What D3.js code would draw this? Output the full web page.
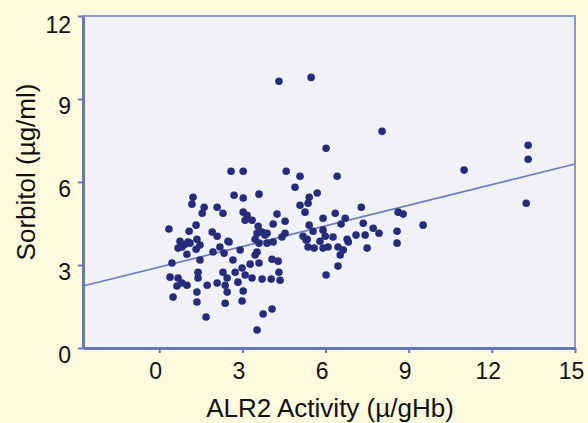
<!DOCTYPE html>
<html>
<head>
<meta charset="utf-8">
<script src="https://cdn.jsdelivr.net/npm/d3@7"></script>
<style>
  html, body { margin: 0; padding: 0; background: #fefade; }
  svg { display: block; font-family: "Liberation Sans", Arial, sans-serif; }
</style>
</head>
<body>
<svg width="588" height="423"></svg>
<script>
// ALR2 activity (x) vs sorbitol (y)
const alr2 = [
  4.32, 5.48, 6.02, 8.04, 11.00, 13.31, 13.31, 13.24, 9.52, 2.59,
  3.03, 4.58, 5.08, 6.42, 4.90, 5.70, 5.41, 2.70, 3.03, 3.60,
  1.22, 1.18, 1.62, 2.09, 1.55, 2.30, 3.03, 3.17, 3.35, 3.10,
  4.25, 4.11, 4.54, 5.08, 5.37, 5.26, 5.41, 5.55, 5.30, 5.59,
  5.91, 5.91, 6.35, 6.71, 6.56, 6.27, 6.78, 6.45, 6.09, 5.91,
  5.99, 5.80, 5.34, 5.19, 5.37, 7.29, 7.36, 7.72, 7.93, 7.10,
  7.43, 8.62, 8.80, 8.58, 8.58, 7.50, 6.82, 6.64, 6.53, 6.45,
  6.02, 0.35, 1.08, 1.33, 1.91, 2.09, 0.75, 1.04, 1.36, 1.47,
  0.82, 2.48, 2.19, 0.68, 1.00, 1.33, 1.94, 2.34, 2.52, 3.53,
  3.71, 3.89, 4.54, 3.60, 3.53, 3.89, 4.11, 3.46, 2.66, 1.47,
  0.46, 0.39, 0.68, 0.82, 1.00, 0.64, 1.40, 1.40, 1.73, 1.36,
  0.50, 1.36, 1.69, 2.09, 2.30, 2.45, 2.38, 2.45, 2.38, 2.74,
  2.99, 3.10, 2.84, 3.03, 2.99, 3.35, 3.28, 3.60, 3.71, 4.07,
  4.29, 4.04, 4.36, 4.32, 3.75, 4.07, 3.53, 3.46, 3.57, 4.43,
  3.82, 2.92, 0.93, 1.11
];
const sorbitol = [
  9.64, 9.78, 7.22, 7.83, 6.43, 7.33, 6.82, 5.23, 4.44, 6.39,
  6.39, 6.39, 6.21, 6.21, 5.81, 5.60, 5.45, 5.52, 5.42, 5.56,
  5.45, 5.20, 5.09, 5.09, 4.87, 4.87, 4.91, 4.80, 4.62, 4.62,
  4.84, 4.48, 4.58, 5.16, 5.23, 4.91, 4.44, 4.22, 3.90, 3.61,
  4.26, 4.69, 4.87, 4.69, 4.48, 4.01, 3.93, 3.65, 3.65, 3.61,
  4.04, 3.86, 3.93, 4.04, 3.65, 5.09, 4.51, 4.33, 4.15, 4.08,
  4.08, 4.91, 4.84, 4.22, 3.79, 3.61, 3.83, 3.54, 3.36, 2.96,
  2.64, 4.30, 4.22, 4.44, 4.19, 4.04, 3.86, 3.83, 3.93, 3.72,
  3.65, 3.86, 3.65, 3.61, 3.39, 3.57, 3.47, 3.43, 3.83, 4.15,
  4.19, 4.15, 4.15, 3.79, 3.47, 3.79, 3.83, 3.36, 3.18, 3.18,
  3.07, 2.56, 2.53, 2.35, 2.27, 2.24, 2.74, 2.53, 2.27, 2.02,
  1.84, 1.66, 1.12, 2.35, 2.74, 2.53, 2.27, 2.02, 1.62, 2.74,
  2.89, 2.64, 2.38, 2.06, 1.70, 2.53, 3.03, 3.07, 2.49, 3.21,
  3.14, 2.49, 2.45, 2.74, 1.23, 1.41, 0.65, 3.93, 4.40, 4.01,
  4.08, 3.54, 3.75, 3.79
];
// fitted line, ends at the edges of the plot
const fitX = [-2.75, 15];
const fitY = [2.24, 6.65];

const xTicks = [0, 3, 6, 9, 12, 15];
const yTicks = [0, 3, 6, 9, 12];

const svg = d3.select("svg");
const plotL = 83, plotR = 575, plotT = 16, plotB = 348;

const x = d3.scaleLinear().domain([-2.75, 15]).range([plotL, plotR]);
const y = d3.scaleLinear().domain([0, 12]).range([plotB, plotT]);

const axisColor = "#6877b9";

svg.append("rect")
    .attr("x", plotL).attr("y", plotT)
    .attr("width", plotR - plotL).attr("height", plotB - plotT)
    .attr("fill", "#f0f2f8")
    .attr("stroke", "#8e98cc")
    .attr("stroke-width", 2);

// regression line
svg.append("line")
    .attr("x1", x(fitX[0])).attr("y1", y(fitY[0]))
    .attr("x2", x(fitX[1])).attr("y2", y(fitY[1]))
    .attr("stroke", "#6a7bc0")
    .attr("stroke-width", 1.7);

svg.append("g")
  .selectAll("circle")
  .data(d3.range(alr2.length))
  .join("circle")
    .attr("cx", i => x(alr2[i]))
    .attr("cy", i => y(sorbitol[i]))
    .attr("r", 3.8)
    .attr("fill", "#262c7c");

const xAxis = svg.append("g")
    .attr("transform", `translate(0,${plotB})`)
    .call(d3.axisBottom(x).tickValues(xTicks).tickSizeInner(5).tickSizeOuter(0).tickPadding(10));

const yAxis = svg.append("g")
    .attr("transform", `translate(${plotL},0)`)
    .call(d3.axisLeft(y).tickValues(yTicks).tickSizeInner(5).tickSizeOuter(0).tickPadding(7));

for (const g of [xAxis, yAxis]) {
  g.select(".domain").attr("stroke", axisColor).attr("stroke-width", 3);
  g.selectAll(".tick line").attr("stroke", axisColor).attr("stroke-width", 2);
  g.selectAll(".tick text")
      .attr("fill", "#111")
      .style("font-size", "23px")
      .style("font-family", "'Liberation Sans', Arial, sans-serif");
}
xAxis.selectAll(".tick text").attr("dx", "-4");
yAxis.selectAll(".tick text").attr("dy", "0.62em");
// top label sits lower so it stays inside the page
yAxis.selectAll(".tick text").filter(d => d === 12).attr("dy", "0.72em");

svg.append("text")
    .attr("x", 330).attr("y", 417)
    .attr("text-anchor", "middle")
    .attr("fill", "#111")
    .style("font-size", "26px")
    .text("ALR2 Activity (µ/gHb)");

svg.append("text")
    .attr("transform", "translate(35,172) rotate(-90)")
    .attr("text-anchor", "middle")
    .attr("fill", "#111")
    .style("font-size", "26px")
    .text("Sorbitol (µg/ml)");
</script>
</body>
</html>
